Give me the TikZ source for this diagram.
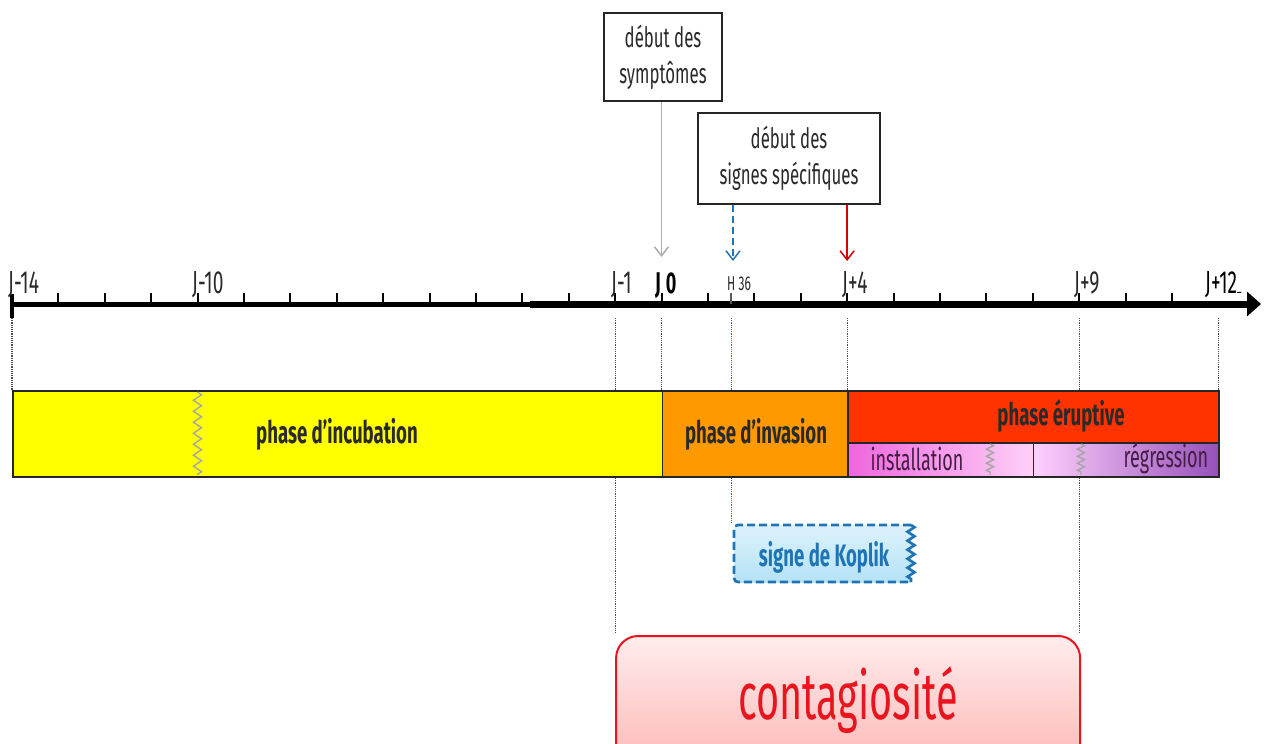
\documentclass[tikz,border=0pt]{standalone}
\usepackage{fontspec}
\setmainfont{Fira Sans}[FakeStretch=0.6]
\usetikzlibrary{arrows.meta,decorations.pathmorphing,calc}
\definecolor{incub}{HTML}{FFFF00}
\definecolor{invas}{HTML}{FF9900}
\definecolor{erupt}{HTML}{FF3300}
\definecolor{instL}{HTML}{EE66DD}
\definecolor{instR}{HTML}{FFD0F8}
\definecolor{regL}{HTML}{FFD0FF}
\definecolor{regR}{HTML}{9650B8}
\definecolor{kopblue}{HTML}{1E74B4}
\definecolor{kopT}{HTML}{DDF2FB}
\definecolor{kopB}{HTML}{B4E2F5}
\definecolor{contred}{HTML}{E8141E}
\definecolor{contT}{HTML}{FFECEC}
\definecolor{contB}{HTML}{FFB4B4}
\definecolor{txt}{HTML}{2A2A2A}
\newcommand{\fsz}[2]{\fontsize{#1}{#2}\selectfont}
\begin{document}
\begin{tikzpicture}[x=1pt,y=-1pt,
  lab/.style={inner sep=0pt, anchor=base west, font=\fsz{32}{34}, text=txt},
  tickmark/.style={line width=2pt},
  guide/.style={densely dotted, line width=1.2pt, gray!60!black},
  bar/.style={draw=black!85, line width=1.6pt, inner sep=0pt, anchor=north west},
  bartext/.style={font=\bfseries\fsz{31}{33}, text=txt},
  subtext/.style={font=\fsz{30}{32}, text=txt!70!violet},
  topbox/.style={draw=black!85, line width=1.6pt, fill=white, align=center, font=\fsz{28}{36}, text=txt, inner sep=0pt},
  wavy/.style={decorate, decoration={zigzag, segment length=11pt, amplitude=4pt}, draw=gray!70, line width=1.4pt},
  smallwavy/.style={decorate, decoration={zigzag, segment length=7pt, amplitude=3.5pt}, draw=gray!70, line width=1.4pt},
  tip/.style={-{Straight Barb[length=9pt,width=14pt,line width=1.5pt]}}
]
\useasboundingbox (0,0) rectangle (1266,744);
\fill[white] (0,0) rectangle (1266,744);

% day positions
\coordinate (dm14) at (11.9,304);
\coordinate (dm10) at (197.5,304);
\coordinate (dm1) at (615.1,304);
\coordinate (d0) at (661.5,304);
\coordinate (h36) at (731.1,304);
\coordinate (d4) at (847.1,304);
\coordinate (d9) at (1079.1,304);
\coordinate (d12) at (1218.3,304);
\coordinate (axend) at (1261,304);

% axis
\draw[line width=5pt] (dm14) -- (530,304);
\draw[line width=7pt, -{Triangle[length=14pt,width=24pt]}] (530,304) -- (axend);
\draw[line width=4.5pt] (11.9,294) -- (11.9,318);
\foreach \i in {-13,...,11} \draw[tickmark] ({661.5+46.4*\i},304) -- ++(0,-11);
\draw[tickmark, gray!70!black] (h36) -- ++(0,-11);

% axis labels
\node[lab] at (8,293) {J-14};
\node[lab] at (192,293) {J-10};
\node[lab] at (611,293) {J-1};
\node[lab, font=\bfseries\fsz{30}{32}, text=black] at (655,293) {J\,0};
\node[lab, font=\fsz{20}{22}] at (727,290) {H 36};
\node[lab] at (842,293) {J+4};
\node[lab] at (1074,293) {J+9};
\node[lab, text=black] at (1205,293) {J+12\raisebox{2pt}{\fsz{14}{14}\_}};

% guide lines axis -> bars
\foreach \c in {dm14,dm1,d0,d4,d9,d12} \draw[guide] ($(\c)+(0,14)$) -- ($(\c)+(0,86)$);
\draw[guide, kopblue] ($(h36)+(0,14)$) -- ($(h36)+(0,86)$);

% phase bars
\node[bar, fill=incub, minimum width=650pt, minimum height=86pt] (incub) at (11.9,390) {};
\node[bar, fill=invas, minimum width=185.6pt, minimum height=86pt] (invas) at (661.5,390) {};
\node[bar, fill=erupt, minimum width=371.2pt, minimum height=52pt] (erupt) at (847.1,390) {};
\node[bar, left color=instL, right color=instR, minimum width=185.6pt, minimum height=34pt] (inst) at (847.1,442) {};
\node[bar, left color=regL, right color=regR, minimum width=185.6pt, minimum height=34pt] (regr) at (1032.7,442) {};
\draw[wavy] (197.5,392) -- (197.5,475);
\draw[smallwavy] (990,444) -- (990,475);
\draw[smallwavy] (1081,444) -- (1081,475);
\node[bartext] (tincub) at (337,434) {phase d’incubation};
\node[bartext] (tinvas) at (756,434) {phase d’invasion};
\node[bartext] (terupt) at (1061,416) {phase éruptive};
\node[subtext] (tinst) at (917,459) {installation};
\node[subtext] (tregr) at (1166,459) {régression};

% top boxes and arrows
\node[topbox, minimum width=118pt, minimum height=88pt] (sympt) at (663,57) {début des\\symptômes};
\node[topbox, minimum width=182pt, minimum height=91pt] (spec) at (789,158.5) {début des\\signes spécifiques};
\coordinate (a0) at (661.5,257);
\coordinate (a36) at (733,261);
\coordinate (a4) at (847.1,261);
\draw[gray!65, line width=1.5pt, tip] (sympt.south -| a0) -- (a0);
\draw[kopblue, dash pattern=on 7pt off 4pt, line width=2.2pt, tip] (spec.south -| a36) -- (a36);
\draw[red!85!black, line width=1.5pt, tip] (spec.south -| a4) -- (a4);

% Koplik
\shade[top color=kopT, bottom color=kopB] (734,525) rectangle (911,582);
\draw[kopblue, dash pattern=on 8pt off 4pt, line width=2.6pt, rounded corners=4pt] (911,525) -- (734,525) -- (734,582) -- (911,582);
\draw[kopblue, line width=2.6pt, decorate, decoration={zigzag, segment length=9pt, amplitude=3.5pt}] (911,525) -- (911,582);
\node[font=\bfseries\fsz{31}{33}, text=kopblue] (koplik) at (824,557) {signe de Koplik};
\draw[guide, kopblue] (731.1,478) -- (731.1,524);

% contagiosite
\draw[guide] (615.1,478) -- (615.1,634);
\draw[guide] (1079.1,478) -- (1079.1,634);
\node[draw=contred, line width=2pt, rounded corners=22pt, top color=contT, bottom color=contB, minimum width=464pt, minimum height=140pt, anchor=north west, inner sep=0pt] (contbox) at (615.1,635) {};
\node[font=\fsz{66}{70}, text=contred] (cont) at (848,700) {contagiosité};
\end{tikzpicture}
\end{document}
